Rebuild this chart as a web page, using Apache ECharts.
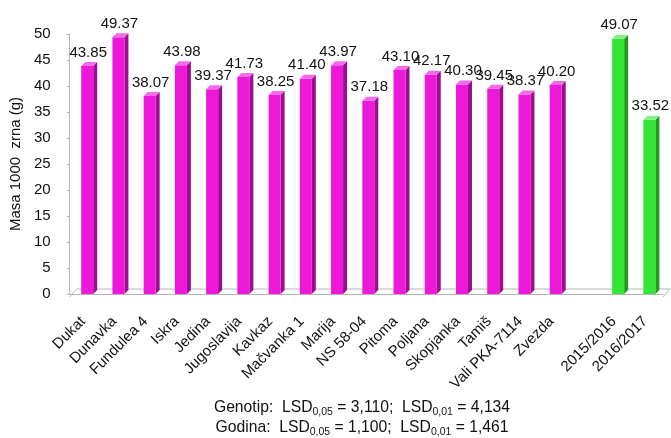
<!DOCTYPE html>
<html>
<head>
<meta charset="utf-8">
<script src="https://cdn.jsdelivr.net/npm/echarts@6/dist/echarts.min.js"></script>
<style>
html,body{margin:0;padding:0;background:#fff;}
#main{width:671px;height:438px;}
</style>
</head>
<body>
<div id="main"></div>
<script>
// ---- data ----
const genotypes = ['Dukat','Dunavka','Fundulea 4','Iskra','Jedina','Jugoslavija','Kavkaz','Mačvanka 1','Marija','NS 58-04','Pitoma','Poljana','Skopjanka','Tamiš','Vali PKA-7114','Zvezda'];
const genotypeValues = [43.85,49.37,38.07,43.98,39.37,41.73,38.25,41.40,43.97,37.18,43.10,42.17,40.30,39.45,38.37,40.20];
const years = ['2015/2016','2016/2017'];
const yearValues = [49.07,33.52];
const yTicks = [0,5,10,15,20,25,30,35,40,45,50];
const yAxisTitle = 'Masa 1000  zrna (g)';
const footerLines = ['Genotip:  LSD{s|0,05} = 3,110;  LSD{s|0,01} = 4,134', 'Godina:  LSD{s|0,05} = 1,100;  LSD{s|0,01} = 1,461'];

// ---- build ----
const categories = genotypes.concat([''], years);
const genotypeData = genotypeValues.map((v,i)=>[i,v]);
const yearData = yearValues.map((v,i)=>[genotypes.length+1+i,v]);

const FONT = '"Liberation Sans", Arial, sans-serif';
const W = 12, DX = 4, DY = 4;

function barRenderer(front, side, topc){
  return function(params, api){
    const idx = api.value(0), v = api.value(1);
    const t = api.coord([idx, v]);
    const b = api.coord([idx, 0]);
    const x0 = t[0] - 4;
    const ty = t[1], by = b[1];
    return {type:'group', children:[
      {type:'polygon', shape:{points:[[x0+W,ty],[x0+W+DX,ty-DY],[x0+W+DX,by-DY],[x0+W,by]]}, style:{fill:side}},
      {type:'rect', shape:{x:x0,y:ty,width:W,height:by-ty}, style:{fill:front}},
      {type:'polygon', shape:{points:[[x0,ty],[x0+DX,ty-DY],[x0+W+DX,ty-DY],[x0+W,ty]]}, style:{fill:topc}},
      {type:'text', x:x0+W/2+1, y:ty-DY-2, style:{text:v.toFixed(2), textAlign:'center', textVerticalAlign:'bottom', font:'15px '+FONT, fill:'#111'}}
    ]};
  };
}

function floorRenderer(params, api){
  const cs = params.coordSys;
  const gx = cs.x, gy = cs.y + cs.height, gr = cs.x + cs.width;
  const c = '#b5b5b5';
  return {type:'group', children:[
    {type:'line', shape:{x1:gx+7,y1:gy-5,x2:gr+7,y2:gy-5}, style:{stroke:c,lineWidth:1}},
    {type:'line', shape:{x1:gx,y1:gy+3,x2:gx+7,y2:gy-5}, style:{stroke:c,lineWidth:1}},
    {type:'line', shape:{x1:gr,y1:gy+3,x2:gr+7,y2:gy-5}, style:{stroke:c,lineWidth:1}}
  ]};
}

const chart = echarts.init(document.getElementById('main'), null, {renderer:'canvas'});
chart.setOption({
  animation:false,
  backgroundColor:'#fff',
  textStyle:{fontFamily:FONT},
  grid:{left:66, right:8, top:34, bottom:144},
  xAxis:{
    type:'category', data:categories, offset:3,
    axisLine:{lineStyle:{color:'#b5b5b5'}},
    axisTick:{alignWithLabel:false, length:5, lineStyle:{color:'#b5b5b5'}},
    axisLabel:{rotate:45, interval:0, margin:20, fontSize:15, color:'#111', fontFamily:FONT, padding:[0,3,0,0]},
    splitLine:{show:false}
  },
  yAxis:{
    type:'value', min:yTicks[0], max:yTicks[yTicks.length-1], interval:yTicks[1]-yTicks[0],
    name:yAxisTitle, nameLocation:'middle', nameGap:37, nameRotate:90,
    nameTextStyle:{fontSize:15, color:'#111', fontFamily:FONT},
    axisLine:{show:true, lineStyle:{color:'#b5b5b5'}},
    axisTick:{show:true, length:3, lineStyle:{color:'#b5b5b5'}},
    axisLabel:{fontSize:15, color:'#111', margin:19, fontFamily:FONT},
    splitLine:{show:false}
  },
  series:[
    {type:'custom', renderItem:floorRenderer, data:[[0,0]], silent:true, z:1},
    {type:'custom', renderItem:barRenderer('#ee18da','#9c0e8d','#f56ae9'), data:genotypeData, z:2},
    {type:'custom', renderItem:barRenderer('#33e633','#1f9c1f','#86f086'), data:yearData, z:2}
  ],
  graphic:[
    {type:'text', x:362, y:398, style:{text:footerLines.join('\n'), textAlign:'center', font:'15.7px '+FONT, fill:'#111', lineHeight:20,
      rich:{s:{fontSize:10.5, verticalAlign:'bottom', lineHeight:20, fontFamily:FONT}}}}
  ]
});
</script>
</body>
</html>
